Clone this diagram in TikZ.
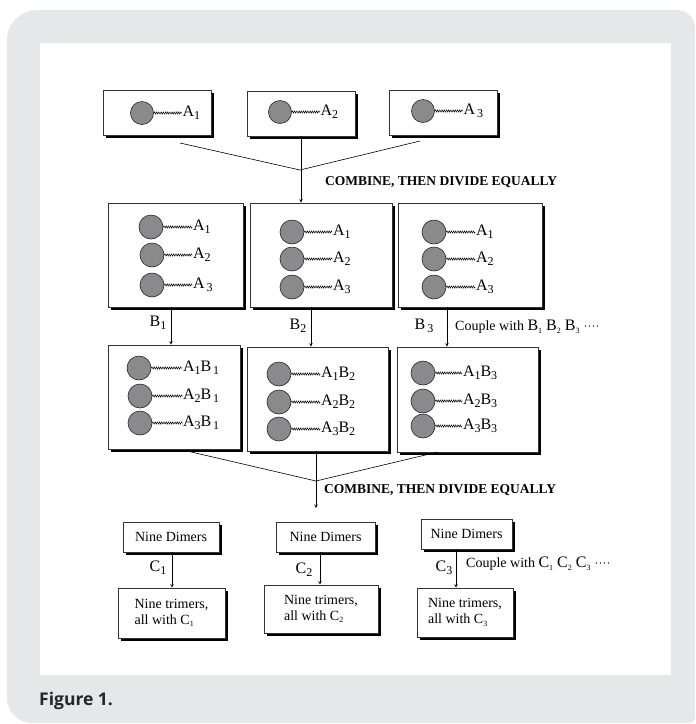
\documentclass[tikz,border=0pt]{standalone}
\usepackage{fontspec}
\setmainfont{Liberation Serif}
\newfontfamily\figfont{Open Sans}
\usetikzlibrary{positioning,shadows,decorations.pathmorphing}
\definecolor{framegray}{HTML}{E6E7E8}
\definecolor{beadgray}{HTML}{8A8A8C}
\newcommand{\lo}[1]{\raisebox{-0.45ex}{\fontsize{12}{12}\selectfont #1}}
\newcommand{\wee}[1]{\raisebox{-0.4ex}{\fontsize{8}{8}\selectfont #1}}

\begin{document}
\begin{tikzpicture}[x=1pt,y=-1pt,node distance=1cm]
  \tikzstyle{box} = [rectangle, draw=black!80, line width=0.6pt, fill=white, inner sep=0pt, drop shadow={shadow xshift=3pt, shadow yshift=-3pt, fill=black, opacity=1}]
  \tikzstyle{bead} = [circle, draw=black!85, line width=0.6pt, fill=beadgray, minimum size=24pt, inner sep=0pt]
  \tikzstyle{tag} = [inner sep=0.5pt, font=\fontsize{16}{16}\selectfont]
  \tikzstyle{link} = [line width=0.5pt, decorate, decoration={snake, amplitude=1.1pt, segment length=2.2pt}]
  \tikzstyle{arrow} = [line width=0.6pt,->,>=stealth]
  \tikzstyle{note} = [inner sep=0pt, anchor=west, font=\fontsize{14}{14}\selectfont]
  \tikzstyle{combine} = [inner sep=0pt, anchor=west, font=\bfseries\fontsize{13.5}{14}\selectfont]

  % frame
  \useasboundingbox (0,0) rectangle (696,724);
  \fill [framegray] (7,300) [rounded corners=30pt] -- (7,10) [rounded corners=18pt] -- (695,10) [rounded corners=5pt] -- (695,723) [rounded corners=25pt] -- (7,723) -- cycle;
  \fill [white] (40,43) rectangle (671,675);
  \node [anchor=base west, inner sep=0pt, text=black!85, font=\figfont\bfseries\fontsize{17.5}{17.5}\selectfont] (caption) at (39,705) {Figure 1.};

  % boxes
  \node (r1a) [box, minimum width=108pt, minimum height=45pt] at (157,112.5) {};
  \node (r1b) [box, minimum width=108pt, minimum height=45pt] at (301,113.5) {};
  \node (r1c) [box, minimum width=108pt, minimum height=45pt] at (443,112.5) {};
  \node (r2a) [box, minimum width=135pt, minimum height=104pt] at (175.5,255) {};
  \node (r2b) [box, minimum width=142pt, minimum height=104pt] at (321,255) {};
  \node (r2c) [box, minimum width=144pt, minimum height=104pt] at (470,255) {};
  \node (r3a) [box, minimum width=132pt, minimum height=104pt] at (174,397) {};
  \node (r3b) [box, minimum width=141pt, minimum height=104pt] at (317.5,399) {};
  \node (r3c) [box, minimum width=141pt, minimum height=105pt] at (467.5,399.5) {};
  \node (dim1) [box, minimum width=96pt, minimum height=30pt, font=\fontsize{14}{14}\selectfont] at (171,537) {Nine Dimers};
  \node (dim2) [box, minimum width=99pt, minimum height=30pt, font=\fontsize{14}{14}\selectfont] at (325.5,537) {Nine Dimers};
  \node (dim3) [box, minimum width=91pt, minimum height=30pt, font=\fontsize{14}{14}\selectfont] at (466.5,534) {Nine Dimers};
  \node (tri1) [box, minimum width=107pt, minimum height=50pt, align=left, font=\fontsize{14}{16}\selectfont] at (171.5,613) {Nine trimers,\\all with C\wee{1}};
  \node (tri2) [box, minimum width=114pt, minimum height=48pt, align=left, font=\fontsize{14}{16}\selectfont] at (321,609) {Nine trimers,\\all with C\wee{2}};
  \node (tri3) [box, minimum width=96pt, minimum height=49pt, align=left, font=\fontsize{14}{16}\selectfont] at (465,612.5) {Nine trimers,\\all with C\wee{3}};

  % single monomers
  \node (s1) [bead, minimum size=23pt] at (142,113) {};
  \node (s1t) [tag, right=28pt of s1] {A\lo{1}};
  \draw [link] (s1) -- (s1t);
  \node (s2) [bead, minimum size=23pt] at (280,112) {};
  \node (s2t) [tag, right=28pt of s2] {A\lo{2}};
  \draw [link] (s2) -- (s2t);
  \node (s3) [bead, minimum size=23pt] at (423,111) {};
  \node (s3t) [tag, right=28pt of s3] {A\lo{\,3}};
  \draw [link] (s3) -- (s3t);

  % mixed monomers
  \node (p11) [bead] at (151,227) {};
  \node (p11t) [tag, right=29pt of p11] {A\lo{1}};
  \draw [link] (p11) -- (p11t);
  \node (p12) [bead] at (152,255) {};
  \node (p12t) [tag, right=28pt of p12] {A\lo{2}};
  \draw [link] (p12) -- (p12t);
  \node (p13) [bead] at (152,285) {};
  \node (p13t) [tag, right=28pt of p13] {A\lo{\,3}};
  \draw [link] (p13) -- (p13t);
  \node (p21) [bead] at (292,232) {};
  \node (p21t) [tag, right=28pt of p21] {A\lo{1}};
  \draw [link] (p21) -- (p21t);
  \node (p22) [bead] at (292,259) {};
  \node (p22t) [tag, right=28pt of p22] {A\lo{2}};
  \draw [link] (p22) -- (p22t);
  \node (p23) [bead] at (292,287) {};
  \node (p23t) [tag, right=28pt of p23] {A\lo{3}};
  \draw [link] (p23) -- (p23t);
  \node (p31) [bead] at (434,232) {};
  \node (p31t) [tag, right=29pt of p31] {A\lo{1}};
  \draw [link] (p31) -- (p31t);
  \node (p32) [bead] at (434,259) {};
  \node (p32t) [tag, right=29pt of p32] {A\lo{2}};
  \draw [link] (p32) -- (p32t);
  \node (p33) [bead] at (434,287) {};
  \node (p33t) [tag, right=29pt of p33] {A\lo{3}};
  \draw [link] (p33) -- (p33t);

  % dimers
  \node (q11) [bead] at (139,368) {};
  \node (q11t) [tag, right=31pt of q11] {A\lo{1}B\lo{\,1}};
  \draw [link] (q11) -- (q11t);
  \node (q12) [bead] at (140,396) {};
  \node (q12t) [tag, right=30pt of q12] {A\lo{2}B\lo{\,1}};
  \draw [link] (q12) -- (q12t);
  \node (q13) [bead] at (140,423) {};
  \node (q13t) [tag, right=30pt of q13] {A\lo{3}B\lo{\,1}};
  \draw [link] (q13) -- (q13t);
  \node (q21) [bead] at (279,374) {};
  \node (q21t) [tag, right=29pt of q21] {A\lo{1}B\lo{2}};
  \draw [link] (q21) -- (q21t);
  \node (q22) [bead] at (279,402) {};
  \node (q22t) [tag, right=29pt of q22] {A\lo{2}B\lo{2}};
  \draw [link] (q22) -- (q22t);
  \node (q23) [bead] at (279,429) {};
  \node (q23t) [tag, right=29pt of q23] {A\lo{3}B\lo{2}};
  \draw [link] (q23) -- (q23t);
  \node (q31) [bead] at (423,373) {};
  \node (q31t) [tag, right=27pt of q31] {A\lo{1}B\lo{3}};
  \draw [link] (q31) -- (q31t);
  \node (q32) [bead] at (423,401) {};
  \node (q32t) [tag, right=27pt of q32] {A\lo{2}B\lo{3}};
  \draw [link] (q32) -- (q32t);
  \node (q33) [bead] at (423,426) {};
  \node (q33t) [tag, right=27pt of q33] {A\lo{3}B\lo{3}};
  \draw [link] (q33) -- (q33t);

  % combine, then divide
  \coordinate (j1) at (300,170);
  \coordinate (j1l) at (180,143);
  \coordinate (j1r) at (420,141);
  \draw [line width=0.6pt] (j1l) -- (j1) -- (j1r);
  \draw [arrow] (r1b.south) -- (r1b.south |- r2b.north);
  \node (comb1) [combine] at (325,182) {COMBINE, THEN DIVIDE EQUALLY};

  \coordinate (j2) at (316,481);
  \coordinate (j2l) at (187,451);
  \coordinate (j2r) at (438,452);
  \coordinate (j2end) at (316,508);
  \draw [line width=0.6pt] (j2l) -- (j2) -- (j2r);
  \draw [arrow] ([xshift=-1.5pt]r3b.south) -- (j2end);
  \node (comb2) [combine] at (324,490) {COMBINE, THEN DIVIDE EQUALLY};

  % couplings with B
  \draw [arrow] ([xshift=-4.5pt]r2a.south) -- ([xshift=-3pt]r3a.north);
  \draw [arrow] ([xshift=-10pt]r2b.south) -- ([xshift=-6.5pt]r3b.north);
  \draw [arrow] ([xshift=-23pt]r2c.south) -- ([xshift=-20.5pt]r3c.north);
  \node (lb1) [tag] at (158,323) {B\lo{1}};
  \node (lb2) [tag] at (298,326) {B\lo{2}};
  \node (lb3) [tag] at (424,326) {B\lo{\,3}};
  \node (cpb) [note] at (455,327) {Couple with \fontsize{16}{16}\selectfont B\wee{1} B\wee{2} B\wee{3} \fontsize{12}{12}\selectfont····};

  % couplings with C
  \draw [arrow] ([xshift=1pt]dim1.south) -- ([xshift=0.5pt]tri1.north);
  \draw [arrow] ([xshift=-5.5pt]dim2.south) -- ([xshift=-1pt]tri2.north);
  \draw [arrow] ([xshift=-10.5pt]dim3.south) -- ([xshift=-9pt]tri3.north);
  \node (lc1) [tag] at (158,568) {C\lo{1}};
  \node (lc2) [tag] at (304,570) {C\lo{2}};
  \node (lc3) [tag] at (444,568) {C\lo{3}};
  \node (cpc) [note] at (466,564) {Couple with \fontsize{16}{16}\selectfont C\wee{1} C\wee{2} C\wee{3} \fontsize{12}{12}\selectfont····};
\end{tikzpicture}
\end{document}
